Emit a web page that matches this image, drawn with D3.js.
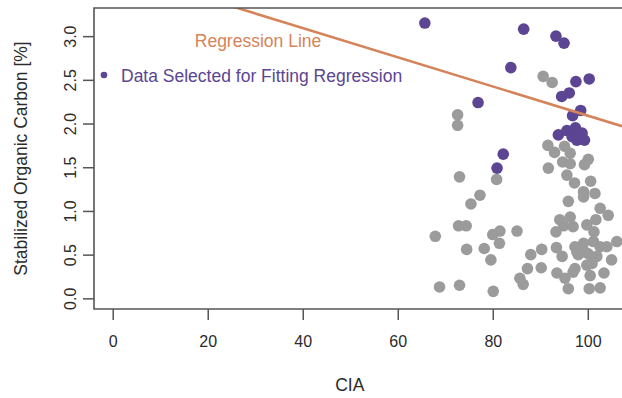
<!DOCTYPE html>
<html>
<head>
<meta charset="utf-8">
<script src="https://cdn.jsdelivr.net/npm/d3@7"></script>
<style>
  html, body { margin: 0; padding: 0; background: #fff; }
  svg { display: block; font-family: "Liberation Sans", Arial, sans-serif; }
</style>
</head>
<body>
<svg id="chart" width="622" height="398"></svg>
<script>
// Chemical Index of Alteration (CIA) vs stabilized organic carbon (%)
const selectedCIA = [65.7, 86.5, 93.3, 95.0, 83.8, 97.5, 100.3, 94.5, 96.1, 76.9, 98.5,
  96.8, 93.8, 95.6, 97.4, 98.2, 96.7, 99.3, 97.7, 82.2, 80.9, 98.8];
const selectedSOC = [3.15, 3.08, 3.00, 2.92, 2.64, 2.48, 2.51, 2.31, 2.35, 2.24, 2.15,
  2.09, 1.87, 1.92, 1.95, 1.87, 1.85, 1.81, 1.81, 1.65, 1.49, 1.89];

const otherCIA = [90.6, 92.5, 72.6, 72.6, 91.6, 95.1, 93.0, 96.3, 100.1, 94.7, 96.3, 99.3,
  91.7, 73.0, 80.8, 95.6, 97.2, 100.6, 99.1, 99.1, 101.5, 77.3, 95.9, 75.4, 102.6, 104.3,
  72.8, 74.4, 94.1, 96.3, 94.9, 96.9, 93.3, 99.8, 101.7, 101.3, 67.9, 80.0, 81.5, 85.1,
  81.4, 74.5, 78.2, 79.6, 88.0, 90.3, 93.4, 94.6, 97.3, 99.1, 101.2, 102.6, 104.0, 98.0,
  100.1, 101.9, 106.1, 105.0, 99.4, 97.7, 87.3, 90.2, 85.7, 86.4, 93.5, 95.2, 97.3, 99.8,
  100.5, 103.4, 68.8, 73.0, 80.1, 95.9, 100.3, 102.6, 96.9, 100.9];
const otherSOC = [2.54, 2.47, 2.10, 1.98, 1.75, 1.74, 1.67, 1.66, 1.59, 1.56, 1.54, 1.53,
  1.49, 1.39, 1.36, 1.41, 1.32, 1.34, 1.22, 1.16, 1.20, 1.18, 1.11, 1.08, 1.03, 0.95,
  0.83, 0.83, 0.90, 0.93, 0.83, 0.82, 0.76, 0.84, 0.90, 0.76, 0.71, 0.73, 0.77, 0.77,
  0.63, 0.56, 0.57, 0.44, 0.50, 0.56, 0.58, 0.48, 0.59, 0.63, 0.65, 0.59, 0.59, 0.50,
  0.51, 0.48, 0.65, 0.44, 0.53, 0.53, 0.34, 0.35, 0.23, 0.16, 0.29, 0.23, 0.34, 0.38,
  0.26, 0.29, 0.13, 0.15, 0.08, 0.11, 0.11, 0.12, 0.30, 0.40];

// fitted line: SOC = intercept + slope * CIA
const regIntercept = 3.761;
const regSlope = -0.01671;

const xTicks = [0, 20, 40, 60, 80, 100];
const yTicks = [0, 0.5, 1.0, 1.5, 2.0, 2.5, 3.0];
const xLimits = [-3.94, 107.2];
const yLimits = [-0.122, 3.322];

const xTitle = "CIA";
const yTitle = "Stabilized Organic Carbon [%]";
const legendLine = "Regression Line";
const legendPoints = "Data Selected for Fitting Regression";

const colPurple = "#5c4592";
const colGray = "#9b9b9b";
const colOrange = "#d5845a";
const colFrame = "#555555";
const colText = "#2b2b2b";

const svg = d3.select("#chart");
const plot = { left: 94, right: 622, top: 8, bottom: 309 };

const x = d3.scaleLinear().domain(xLimits).range([plot.left, plot.right]);
const y = d3.scaleLinear().domain(yLimits).range([plot.bottom, plot.top]);

svg.append("defs").append("clipPath").attr("id", "plotClip")
  .append("rect")
  .attr("x", plot.left).attr("y", plot.top)
  .attr("width", plot.right - plot.left).attr("height", plot.bottom - plot.top);

const inner = svg.append("g").attr("clip-path", "url(#plotClip)");

const others = otherCIA.map((c, i) => ({ cia: c, soc: otherSOC[i] }));
const selected = selectedCIA.map((c, i) => ({ cia: c, soc: selectedSOC[i] }));

inner.selectAll("circle.other").data(others).join("circle")
  .attr("class", "other")
  .attr("cx", d => x(d.cia)).attr("cy", d => y(d.soc))
  .attr("r", 5.8).attr("fill", colGray);

inner.selectAll("circle.sel").data(selected).join("circle")
  .attr("class", "sel")
  .attr("cx", d => x(d.cia)).attr("cy", d => y(d.soc))
  .attr("r", 5.8).attr("fill", colPurple);

// regression line across the full x range
inner.append("line")
  .attr("x1", x(xLimits[0])).attr("y1", y(regIntercept + regSlope * xLimits[0]))
  .attr("x2", x(xLimits[1])).attr("y2", y(regIntercept + regSlope * xLimits[1]))
  .attr("stroke", colOrange).attr("stroke-width", 2.6);

// frame: left, top, bottom
svg.append("path")
  .attr("d", `M${plot.right},${plot.top} H${plot.left} V${plot.bottom} H${plot.right}`)
  .attr("fill", "none").attr("stroke", colFrame).attr("stroke-width", 1.6);

// axes
const xAxis = d3.axisBottom(x).tickValues(xTicks).tickSize(11).tickPadding(16)
  .tickFormat(d3.format("d"));
const gx = svg.append("g").attr("transform", `translate(0,${plot.bottom})`).call(xAxis);
gx.select(".domain").remove();
gx.selectAll(".tick line").attr("stroke", colFrame).attr("stroke-width", 1.5);
gx.selectAll(".tick text").attr("fill", colText).attr("font-size", 16)
  .attr("font-family", "Liberation Sans, Arial, sans-serif");

const yAxis = d3.axisLeft(y).tickValues(yTicks).tickSize(11).tickFormat(d3.format(".1f"));
const gy = svg.append("g").attr("transform", `translate(${plot.left},0)`).call(yAxis);
gy.select(".domain").remove();
gy.selectAll(".tick line").attr("stroke", colFrame).attr("stroke-width", 1.5);
gy.selectAll(".tick text")
  .attr("fill", colText).attr("font-size", 16)
  .attr("font-family", "Liberation Sans, Arial, sans-serif")
  .attr("x", null).attr("dy", null)
  .attr("text-anchor", "middle")
  .attr("dominant-baseline", "central")
  .attr("transform", "translate(-24,0) rotate(-90)");

// axis titles
svg.append("text")
  .attr("x", (x(0) + x(100)) / 2 - 0.5).attr("y", 391)
  .attr("text-anchor", "middle").attr("font-size", 17.5).attr("fill", colText)
  .text(xTitle);

svg.append("text")
  .attr("transform", `translate(27,${(plot.top + plot.bottom) / 2}) rotate(-90)`)
  .attr("text-anchor", "middle").attr("font-size", 17.5).attr("fill", colText)
  .text(yTitle);

// legend
svg.append("text")
  .attr("x", 258).attr("y", 47)
  .attr("text-anchor", "middle").attr("font-size", 17.5).attr("fill", colOrange)
  .text(legendLine);

svg.append("circle").attr("cx", 104).attr("cy", 75).attr("r", 3.3).attr("fill", colPurple);
svg.append("text")
  .attr("x", 121).attr("y", 82)
  .attr("font-size", 17.5).attr("fill", colPurple)
  .text(legendPoints);
</script>
</body>
</html>
